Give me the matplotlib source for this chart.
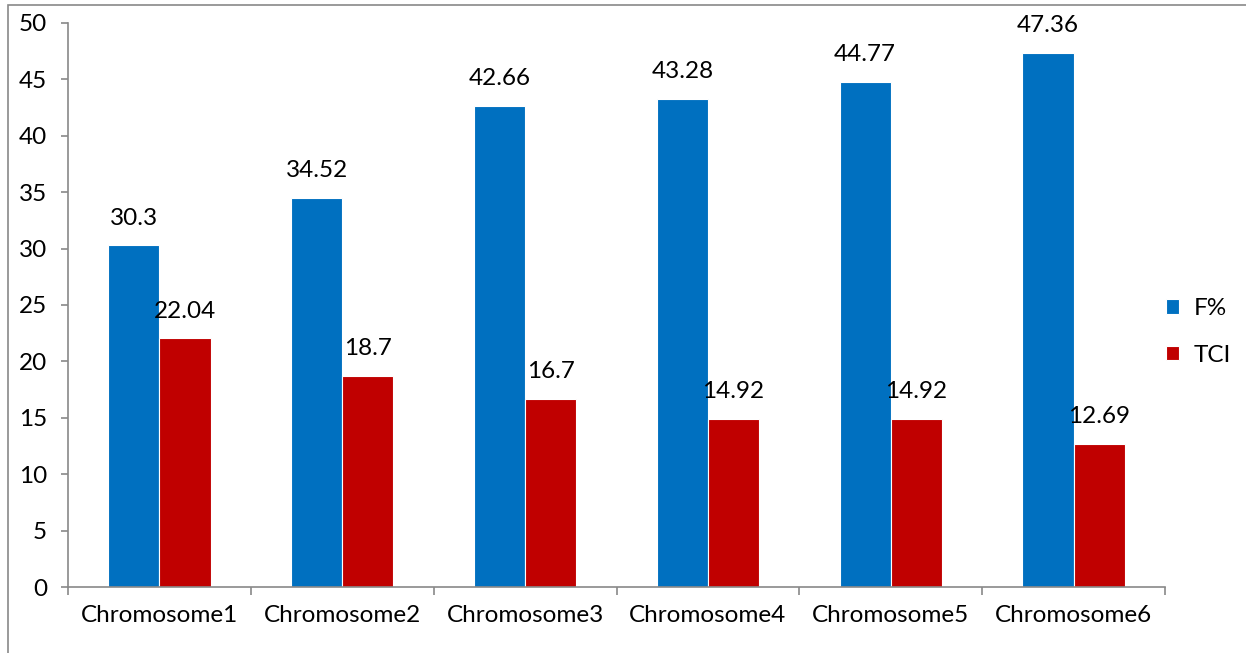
import matplotlib
matplotlib.use("Agg")
from matplotlib import pyplot as plt
import numpy as np

categories = ["Chromosome1", "Chromosome2", "Chromosome3",
              "Chromosome4", "Chromosome5", "Chromosome6"]
f_pct = [30.3, 34.52, 42.66, 43.28, 44.77, 47.36]
tci = [22.04, 18.7, 16.7, 14.92, 14.92, 12.69]

blue = "#0070C0"
red = "#C00000"
grey = "#898989"
fs = 17.5

plt.rcParams['font.family'] = ['Lato', 'DejaVu Sans']

fig = plt.figure(figsize=(12.46, 6.53), dpi=100)
ax = fig.add_axes([0.0546, 0.101, 0.8804, 0.864])

ind = np.arange(len(categories))
w = 0.28
b1 = ax.bar(ind - w / 2, f_pct, w, color=blue, edgecolor="white", linewidth=0.8, label="F%")
b2 = ax.bar(ind + w / 2, tci, w, color=red, edgecolor="white", linewidth=0.8, label="TCI")

# value labels above bars
for bars, vals in [(b1, f_pct), (b2, tci)]:
    for rect, v in zip(bars, vals):
        ax.annotate(str(v), (rect.get_x() + rect.get_width() / 2, v),
                    xytext=(0, 19.5), textcoords="offset points",
                    ha="center", va="center", fontsize=fs)

ax.set_xlim(-0.5, len(categories) - 0.5)
ax.set_ylim(0, 50)
ax.set_yticks(np.arange(0, 51, 5))
ax.set_xticks(ind)
ax.set_xticklabels(categories)
ax.set_xticks(np.arange(-0.5, len(categories), 1), minor=True)
ax.tick_params(axis="x", which="major", length=0, labelsize=fs, pad=13)
ax.tick_params(axis="x", which="minor", length=6, color=grey, width=1.2)
ax.tick_params(axis="y", length=5, color=grey, width=1.2, labelsize=fs, pad=10)

ax.spines["top"].set_visible(False)
ax.spines["right"].set_visible(False)
ax.spines["left"].set_color(grey)
ax.spines["bottom"].set_color(grey)
ax.spines["left"].set_linewidth(1.2)
ax.spines["bottom"].set_linewidth(1.2)

fig.legend(handles=[b1, b2], loc="center left", bbox_to_anchor=(1166 / 1246, 1 - 332 / 653),
           frameon=False, fontsize=fs, handlelength=0.55, handleheight=0.55,
           handletextpad=0.6, labelspacing=1.05, borderaxespad=0, borderpad=0)

# outer chart border
fig.patches.append(plt.Rectangle((0.0064, -0.01), 1.1, 1.002, transform=fig.transFigure,
                                 fill=False, edgecolor=grey, linewidth=1.2))

fig.savefig("out.png", dpi=100)
